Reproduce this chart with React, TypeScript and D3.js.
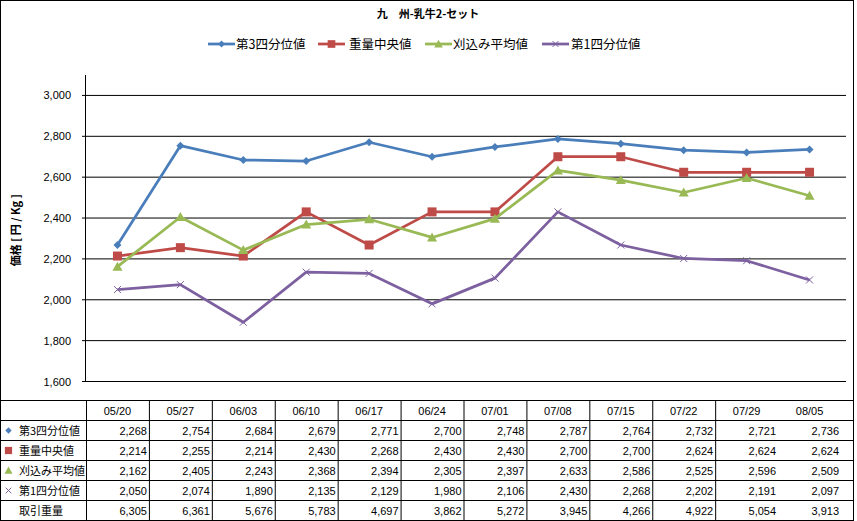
import { line, scaleBand, scaleLinear, format } from "d3";

const dates = ["05/20", "05/27", "06/03", "06/10", "06/17", "06/24", "07/01", "07/08", "07/15", "07/22", "07/29", "08/05"];
const q3 = [2268, 2754, 2684, 2679, 2771, 2700, 2748, 2787, 2764, 2732, 2721, 2736];
const median = [2214, 2255, 2214, 2430, 2268, 2430, 2430, 2700, 2700, 2624, 2624, 2624];
const trimmed = [2162, 2405, 2243, 2368, 2394, 2305, 2397, 2633, 2586, 2525, 2596, 2509];
const q1 = [2050, 2074, 1890, 2135, 2129, 1980, 2106, 2430, 2268, 2202, 2191, 2097];
const volume = [6305, 6361, 5676, 5783, 4697, 3862, 5272, 3945, 4266, 4922, 5054, 3913];
const yTicks = [1600, 1800, 2000, 2200, 2400, 2600, 2800, 3000];

type Marker = "diamond" | "square" | "triangle" | "x";
const series: { name: string; values: number[]; color: string; marker: Marker }[] = [
  { name: "第3四分位値", values: q3, color: "#4A7EBB", marker: "diamond" },
  { name: "重量中央値", values: median, color: "#BE4B48", marker: "square" },
  { name: "刈込み平均値", values: trimmed, color: "#98B954", marker: "triangle" },
  { name: "第1四分位値", values: q1, color: "#7D60A0", marker: "x" },
];

const W = 857;
const H = 521;
const plotLeft = 86;
const plotRight = 841;
const plotTop = 75;
const plotBottom = 381.5;
const tableTop = 400.5;
const rowH = 20;
const font = "'Liberation Sans', 'Noto Sans CJK JP', sans-serif";
const cjk = "'Noto Sans CJK JP', sans-serif";

const MarkerShape = ({ type, x, y, color, s = 1 }: { type: Marker; x: number; y: number; color: string; s?: number }) => {
  if (type === "diamond") {
    const r = 4 * s;
    return <path d={`M${x},${y - r}L${x + r},${y}L${x},${y + r}L${x - r},${y}Z`} fill={color} />;
  }
  if (type === "square") {
    const r = 4.5 * s;
    return <rect x={x - r} y={y - r} width={2 * r} height={2 * r} fill={color} />;
  }
  if (type === "triangle") {
    const r = 5 * s;
    return <path d={`M${x},${y - r}L${x + r},${y + r * 0.8}L${x - r},${y + r * 0.8}Z`} fill={color} />;
  }
  const r = 3.5 * s;
  return (
    <path d={`M${x - r},${y - r}L${x + r},${y + r}M${x + r},${y - r}L${x - r},${y + r}`} stroke={color} strokeWidth={1} fill="none" />
  );
};

export default function App() {
  const x = scaleBand<string>().domain(dates).range([plotLeft, plotRight]);
  const y = scaleLinear().domain([1600, 3100]).range([plotBottom, plotTop]);
  const fmt = format(",");
  const cx = (d: string) => (x(d) ?? 0) + x.bandwidth() / 2;

  const legendItems = [
    { lx: 208, tx: 236 },
    { lx: 318, tx: 349 },
    { lx: 425, tx: 453 },
    { lx: 542, tx: 571 },
  ];

  const tableRows = [...series.map((s) => ({ name: s.name, values: s.values, s })), { name: "取引重量", values: volume, s: null }];

  return (
    <svg width={W} height={H} style={{ position: "absolute", left: 0, top: 0 }}>
      <rect x={0} y={0} width={W} height={H} fill="#fff" />
      <rect x={0.5} y={0.5} width={853} height={520} fill="none" stroke="#000" />

      <text x={428} y={18} textAnchor="middle" fontFamily={cjk} fontWeight="bold" fontSize={11}>
        九　州-乳牛2-セット
      </text>

      {series.map((s, i) => (
        <g key={s.name}>
          <line x1={legendItems[i].lx} x2={legendItems[i].lx + 27} y1={44} y2={44} stroke={s.color} strokeWidth={2.75} />
          <MarkerShape type={s.marker} x={legendItems[i].lx + 13.5} y={44} color={s.color} s={0.85} />
          <text x={legendItems[i].tx} y={48.5} fontFamily={cjk} fontSize={12.5}>
            {s.name}
          </text>
        </g>
      ))}

      <text
        transform={`translate(20,${(plotTop + plotBottom) / 2 + 2}) rotate(-90)`}
        textAnchor="middle"
        fontFamily={cjk}
        fontWeight="bold"
        fontSize={11}
      >
        価格 [ 円 / Kg ]
      </text>

      {yTicks.map((t) => (
        <g key={t}>
          <line x1={plotLeft - 4} x2={846} y1={y(t)} y2={y(t)} stroke="#000" strokeWidth={1} />
          <text x={71} y={y(t) + 4} textAnchor="end" fontFamily={font} fontSize={11}>
            {fmt(t)}
          </text>
        </g>
      ))}
      <line x1={plotLeft - 0.5} x2={plotLeft - 0.5} y1={plotTop} y2={plotBottom} stroke="#000" />

      {series.map((s) => {
        const path = line<number>()
          .x((_, i) => cx(dates[i]))
          .y((v) => y(v))(s.values);
        return (
          <g key={s.name}>
            <path d={path ?? ""} fill="none" stroke={s.color} strokeWidth={2.75} strokeLinejoin="round" />
            {s.values.map((v, i) => (
              <MarkerShape key={i} type={s.marker} x={cx(dates[i])} y={y(v)} color={s.color} />
            ))}
          </g>
        );
      })}

      {/* data table */}
      {[0, 1, 2, 3, 4, 5, 6].map((r) => (
        <line key={r} x1={0} x2={854} y1={tableTop + r * rowH} y2={tableTop + r * rowH} stroke="#000" />
      ))}
      <line x1={0.5} x2={0.5} y1={tableTop} y2={tableTop + 6 * rowH} stroke="#000" />
      {dates.slice(0, 11).map((d) => (
        <line key={d} x1={(x(d) ?? 0) + 0.5} x2={(x(d) ?? 0) + 0.5} y1={tableTop} y2={tableTop + 6 * rowH} stroke="#000" />
      ))}
      <line x1={853.5} x2={853.5} y1={tableTop} y2={tableTop + 6 * rowH} stroke="#000" />
      {dates.map((d) => (
        <text key={d} x={cx(d)} y={tableTop + 14.5} textAnchor="middle" fontFamily={font} fontSize={11}>
          {d}
        </text>
      ))}
      {tableRows.map((row, r) => {
        const ry = tableTop + (r + 1) * rowH;
        return (
          <g key={row.name}>
            {row.s && <MarkerShape type={row.s.marker} x={8.5} y={ry + 10} color={row.s.color} s={0.8} />}
            <text x={19} y={ry + 14.5} fontFamily={cjk} fontSize={11}>
              {row.name}
            </text>
            {row.values.map((v, i) => (
              <text key={i} x={(x(dates[i]) ?? 0) + x.bandwidth() - 2} y={ry + 14.5} textAnchor="end" fontFamily={font} fontSize={11}>
                {fmt(v)}
              </text>
            ))}
          </g>
        );
      })}
    </svg>
  );
}
